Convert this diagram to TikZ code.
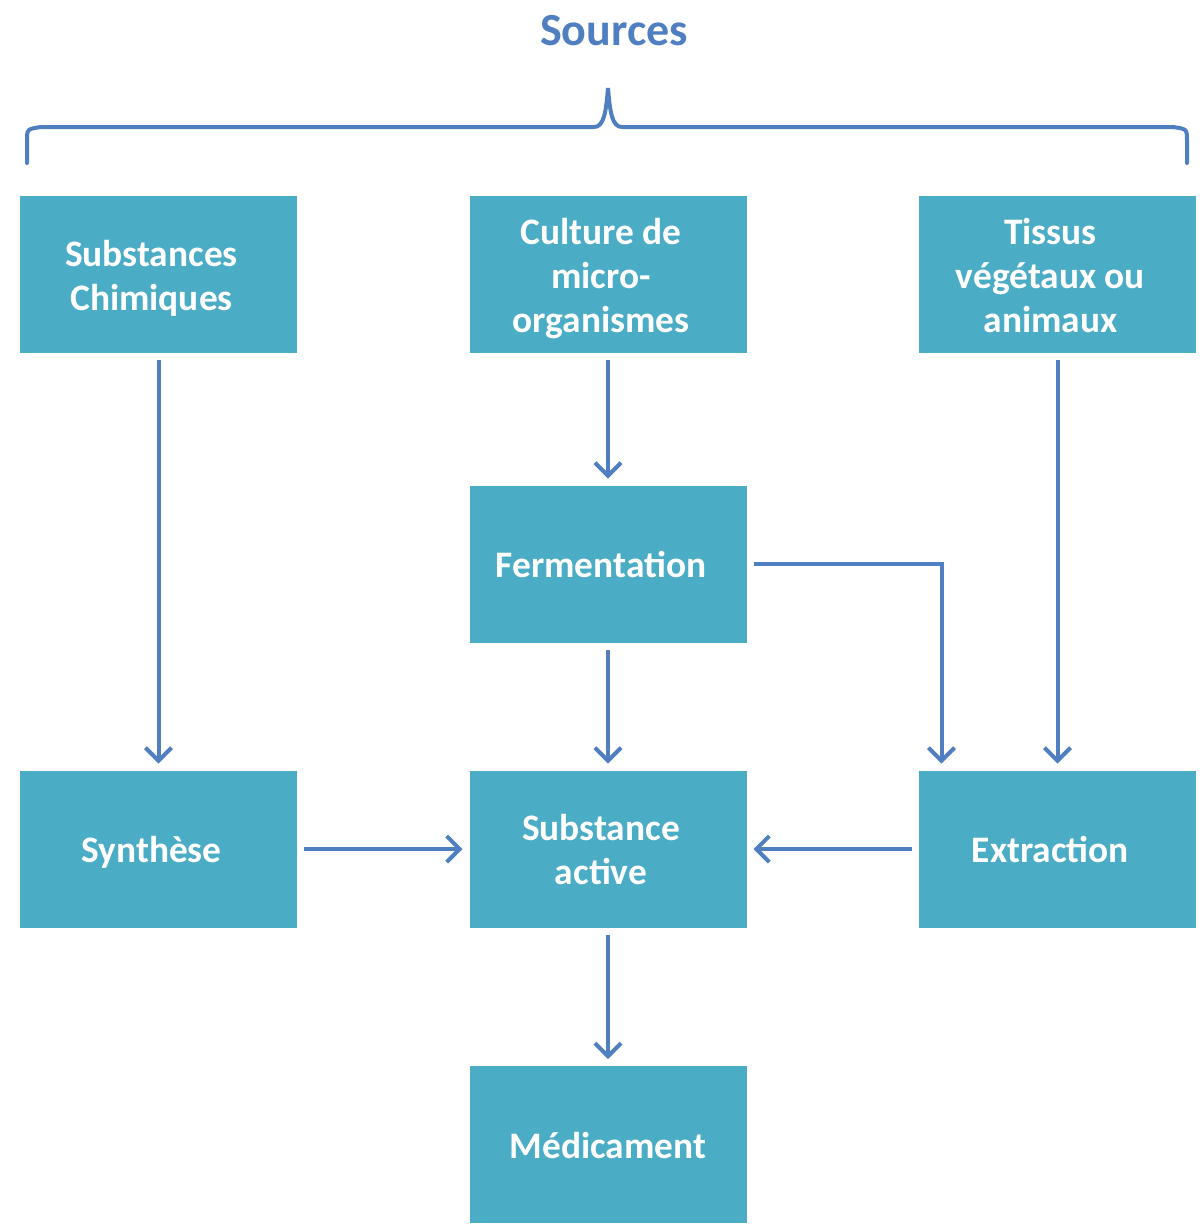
\documentclass[tikz,border=0pt]{standalone}
\usepackage{fontspec}
\setmainfont{Carlito}
\usetikzlibrary{arrows.meta,shadows}
\definecolor{boxfill}{HTML}{4BACC6}
\definecolor{linkblue}{HTML}{4F7FC0}
\newcommand\bxt[2][-7pt]{\hspace*{#1}\raisebox{-2.5pt}[\height][\depth]{\begin{tabular}{@{}c@{}}#2\end{tabular}}}
\tikzset{
  stepbox/.style={rectangle, fill=boxfill, draw=white, line width=3.5pt,
    minimum width=142pt, minimum height=82pt, inner sep=0pt,
    text=white, font=\fontsize{18.7}{22}\selectfont\bfseries,
    drop shadow={shadow xshift=1.2pt, shadow yshift=-1.6pt, opacity=0.22, fill=black!70}},
  link/.style={draw=linkblue, line width=2pt,
    -{Straight Barb[length=6.5pt,width=13pt,line width=2pt]}},
  bracket/.style={draw=linkblue, line width=2pt, line cap=round}
}
\begin{document}
\begin{tikzpicture}[x=0.5pt,y=-0.5pt]
\useasboundingbox (0,0) rectangle (1203,1228);
\node[text=linkblue, font=\fontsize{23}{28}\selectfont\bfseries] (title) at (614,31) {Sources};
% brace
\coordinate (bl) at (27,163);
\coordinate (br) at (1187,163);
\coordinate (tip) at (608,88);
\draw[bracket] (bl) -- (27,141) .. controls (27,129) .. (41,127) -- (594,127)
  .. controls (604,127) and (606,112) .. (tip)
  .. controls (610,112) and (612,127) .. (622,127) -- (1173,127)
  .. controls (1187,129) .. (1187,141) -- (br);
% boxes
\node[stepbox] (chim) at (158.5,274.5) {\bxt{Substances\\Chimiques}};
\node[stepbox] (cult) at (608,274.5) {\bxt{Culture de\\micro-\\organismes}};
\node[stepbox] (tiss) at (1057.5,274.5) {\bxt{Tissus\\végétaux ou\\animaux}};
\node[stepbox] (ferm) at (608,564) {\bxt{Fermentation}};
\node[stepbox] (synt) at (158.5,849) {\bxt{Synthèse}};
\node[stepbox] (subs) at (608,849) {\bxt{Substance\\active}};
\node[stepbox] (extr) at (1057.5,849) {\bxt{Extraction}};
\node[stepbox] (medi) at (608,1144.5) {\bxt[0pt]{Médicament}};
% connectors
\draw[link] (chim) -- (synt);
\draw[link] (cult) -- (ferm);
\draw[link] (ferm) -- (subs);
\draw[link] (ferm.east) -| ([xshift=14.75pt]extr.north west);
\draw[link] (tiss) -- (extr);
\draw[link] (synt) -- (subs);
\draw[link] (extr) -- (subs);
\draw[link] (subs) -- (medi);
\end{tikzpicture}
\end{document}
